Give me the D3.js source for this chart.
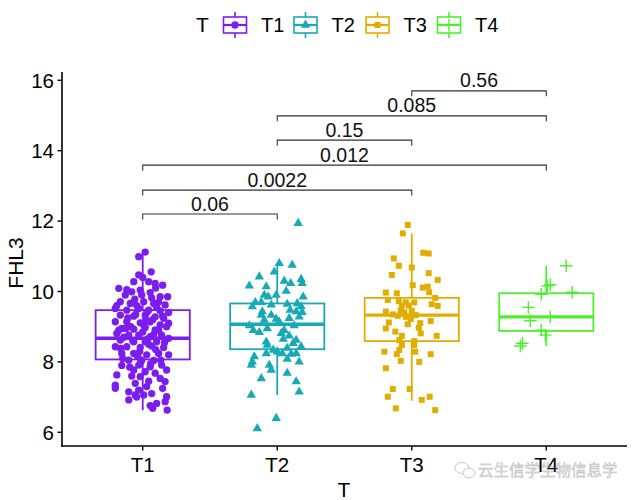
<!DOCTYPE html>
<html><head><meta charset="utf-8">
<script src="https://cdn.jsdelivr.net/npm/d3@7"></script>
<style>body{margin:0;background:#fff}svg{display:block}</style>
</head><body>
<svg id="chart" width="638" height="500"></svg>
<script>
// ---------- DATA ----------
const categories = ["T1", "T2", "T3", "T4"];
const colors = ["#7C1DF0", "#17A9B6", "#E0AD00", "#4CF02C"];
const shapes = ["circle", "triangle", "square", "cross"];
const boxLow  = [6.63, 7.06, 6.90, 8.45];
const boxQ1   = [8.07, 8.36, 8.59, 8.88];
const boxMed  = [8.67, 9.07, 9.33, 9.28];
const boxQ3   = [9.47, 9.66, 9.82, 9.95];
const boxHigh = [11.15, 10.80, 11.65, 10.73];
const yTicks = [6, 8, 10, 12, 14, 16];
// points: [jitter (1/135 of a category), value]
const t1Points = [[2.5,11.12],[-4,10.99],[8.5,10.56],[-4,10.47],[-9,10.28],[6,10.28],[12.5,10.23],[20,10.18],[-24,10.09],[-11,9.99],[-2.5,10.04],[7.5,9.97],[-17.5,9.9],[17.5,9.85],[25,9.85],[-22.5,9.71],[-12.5,9.66],[1,9.71],[11,9.66],[22.5,9.62],[-27.5,9.52],[-16,9.47],[-4,9.52],[6,9.47],[17.5,9.45],[26,9.4],[-22.5,9.33],[-9,9.3],[2.5,9.33],[12.5,9.28],[21,9.24],[-27.5,9.14],[-16,9.14],[-2.5,9.11],[7.5,9.14],[17.5,9.05],[26,9.1],[-21,8.95],[-9,8.93],[2.5,8.98],[12.5,8.91],[-26,8.81],[-14,8.76],[-4,8.76],[7.5,8.72],[19,8.76],[26,8.67],[-22.5,8.62],[-9,8.57],[2.5,8.57],[14,8.57],[-27.5,8.43],[-16,8.43],[-2.5,8.41],[9,8.45],[21,8.41],[-21,8.24],[-9,8.24],[4,8.2],[16,8.24],[26,8.2],[-14,8.05],[-1,8.05],[11,8.04],[-4,7.91],[7.5,7.86],[19,7.91],[24,7.77],[-9,7.77],[2.5,7.72],[12.5,7.68],[-26,7.63],[-2.5,7.58],[17.5,7.53],[22.5,7.44],[-27.5,7.34],[-7.5,7.39],[4,7.3],[-27.5,7.25],[-14,7.15],[-4,7.2],[-7.5,7.06],[1,7.06],[24,7.01],[-14,6.92],[14,6.82],[7.5,6.76],[22.5,6.87],[24.5,6.63],[10,6.68],
  [-6,9.6],[4,9.4],[10,9.2],[-12,9.0],[0,8.85],[16,8.9],[-19,8.7],[6,8.5],[-3,8.3],[13,8.35],[-24,8.9],[20,9.3],[-8,9.78],[9,9.82],[-15,9.25],[1,9.05],[-10,8.6],[18,8.05],[-20,8.1],[5,8.65],[-1,9.9],[22,8.55],[-26,9.6],[14,9.55],[-5,8.15],[8,7.95],[-13,7.85],[19,8.72],[-17,8.95],[3,9.2],[24,9.0],[-22,8.38],[11,8.78],[-7,9.35],[16,9.7],[-2,8.0],[-11,7.6],[6,7.45],[-16,10.05],[13,10.1],[-21,7.9],[20,7.25],[0,10.4],[-6,7.0],[9,7.1]];
const t2Points = [[21,11.94],[2,10.8],[15,10.75],[-3,10.56],[-18,10.42],[7,10.3],[13.5,10.23],[24,10.35],[25,10.23],[-28,10.16],[-11,10.14],[9,10.01],[-1,9.9],[-13,9.9],[-9,9.85],[26,9.85],[-22,9.69],[-16,9.69],[-6,9.62],[10,9.64],[20,9.66],[24,9.57],[-25,9.57],[-15,9.43],[13,9.47],[19,9.43],[25,9.41],[-16,9.33],[-6,9.33],[-13,9.19],[-1,9.22],[12,9.24],[22,9.28],[2,9.14],[-28,9.03],[17,9.03],[-24,8.9],[-10,8.95],[7,8.9],[-18,8.84],[4,8.81],[12,8.74],[6,8.65],[19,8.62],[-11,8.57],[-10,8.48],[16,8.53],[24,8.43],[10,8.39],[-4,8.34],[0,8.29],[5,8.24],[-11,8.24],[14,8.22],[19,8.24],[-23,8.15],[22,8.0],[-25,8.0],[10,8.08],[-8,7.91],[-26,7.91],[-6,7.77],[10,7.68],[-16,7.53],[19,7.44],[22,7.15],[-26,7.06],[-1,6.4],[-20,6.11]];
const t3Points = [[-4,11.89],[-9,11.65],[11.5,11.1],[17,11.08],[-18,10.94],[-13,10.73],[0,10.68],[-20,10.47],[17,10.52],[26,10.33],[1,10.18],[11,10.11],[16,10.14],[-26,9.97],[-15,9.95],[17.5,9.98],[23.5,9.82],[-24,9.76],[-13,9.73],[-6,9.69],[2.5,9.69],[-10,9.6],[-3,9.6],[20,9.64],[26,9.59],[-11,9.47],[-26,9.43],[-7.5,9.41],[0,9.45],[-19,9.35],[-14,9.31],[-6,9.28],[4,9.33],[-1,9.22],[-23,9.12],[8.5,9.1],[19,9.16],[-4,9.07],[-26,8.95],[7,8.97],[-16.5,8.86],[9,8.81],[-10,8.74],[25,8.74],[-12.5,8.62],[2.5,8.59],[-10,8.48],[2.5,8.48],[-27.5,8.29],[-12.5,8.34],[-15,8.22],[3.5,8.29],[19,8.22],[-11,8.03],[7.5,8.0],[-26,7.82],[-19,7.23],[-24,7.01],[-2,7.23],[10,6.92],[18,7.01],[-16,6.68],[23.5,6.63]];
const t4Points = [[20,10.73],[1,10.16],[4,10.19],[-5,9.92],[26,9.98],[-18,9.55],[-16,9.17],[4,9.28],[-5,8.9],[-1,8.76],[-24,8.53],[-26,8.45]];
const groupPoints = [t1Points, t2Points, t3Points, t4Points];
const comparisons = [["T1","T2","0.06"],["T1","T3","0.0022"],["T1","T4","0.012"],["T2","T3","0.15"],["T2","T4","0.085"],["T3","T4","0.56"]];
const bracketY = [12.2, 12.88, 13.59, 14.3, 14.99, 15.7];

// ---------- LAYOUT ----------
const svg = d3.select("#chart");
const FONT = "'Liberation Sans', Arial, sans-serif";
const left = 62, right = 627, axisTop = 72, axisBottom = 446;
const x = d3.scalePoint().domain(categories).range([left, right]).padding(0.6);
const step = x.step();
const y = d3.scaleLinear().domain([6, 16]).range([432.3, 80.3]);
const boxW = step * 0.7;

function symbolPath(shape, size) {
  if (shape === "circle") return d3.symbol(d3.symbolCircle, size)();
  if (shape === "triangle") return d3.symbol(d3.symbolTriangle, size * 0.9)();
  if (shape === "square") return d3.symbol(d3.symbolSquare, size * 0.85)();
  const h = Math.sqrt(size) * 0.8;
  return `M${-h},0H${h}M0,${-h}V${h}`;
}
function drawSymbol(g, shape, color, cx, cy, size) {
  const p = g.append("path").attr("d", symbolPath(shape, size))
    .attr("transform", `translate(${cx},${cy})`);
  if (shape === "cross") p.attr("fill", "none").attr("stroke", color).attr("stroke-width", 1.4);
  else p.attr("fill", color);
}

// ---------- BOXES ----------
const gBox = svg.append("g");
categories.forEach((c, i) => {
  const cx = x(c), col = colors[i];
  const g = gBox.append("g").attr("stroke", col).attr("fill", "none");
  g.append("line").attr("x1", cx).attr("x2", cx).attr("y1", y(boxHigh[i])).attr("y2", y(boxQ3[i])).attr("stroke-width", 1.8);
  g.append("line").attr("x1", cx).attr("x2", cx).attr("y1", y(boxQ1[i])).attr("y2", y(boxLow[i])).attr("stroke-width", 1.8);
  g.append("rect").attr("x", cx - boxW / 2).attr("width", boxW)
    .attr("y", y(boxQ3[i])).attr("height", y(boxQ1[i]) - y(boxQ3[i])).attr("fill", "#fff").attr("stroke-width", 1.8);
  g.append("line").attr("x1", cx - boxW / 2).attr("x2", cx + boxW / 2)
    .attr("y1", y(boxMed[i])).attr("y2", y(boxMed[i])).attr("stroke-width", 3.4);
});

// ---------- POINTS ----------
const gPts = svg.append("g");
categories.forEach((c, i) => {
  groupPoints[i].forEach(([j, v]) => {
    drawSymbol(gPts, shapes[i], colors[i], x(c) + j * step / 135, y(v), shapes[i] === "cross" ? 60 : 42);
  });
});

// ---------- BRACKETS ----------
const gBr = svg.append("g");
comparisons.forEach(([a, b, lab], k) => {
  const yy = y(bracketY[k]), x1 = x(a), x2 = x(b), tip = 5.5;
  gBr.append("path").attr("d", `M${x1},${yy + tip}V${yy}H${x2}V${yy + tip}`)
    .attr("fill", "none").attr("stroke", "#333").attr("stroke-width", 1.1);
  gBr.append("text").attr("x", (x1 + x2) / 2).attr("y", yy - 3.5).attr("text-anchor", "middle")
    .attr("font-family", FONT).attr("font-size", 19.5).attr("fill", "#111").text(lab);
});

// ---------- AXES ----------
const gAx = svg.append("g");
gAx.append("line").attr("x1", left).attr("x2", left).attr("y1", axisTop).attr("y2", axisBottom + 0.75).attr("stroke", "#000").attr("stroke-width", 1.6);
gAx.append("line").attr("x1", left - 0.75).attr("x2", right).attr("y1", axisBottom).attr("y2", axisBottom).attr("stroke", "#000").attr("stroke-width", 1.6);
yTicks.forEach(t => {
  gAx.append("line").attr("x1", left - 4.5).attr("x2", left).attr("y1", y(t)).attr("y2", y(t)).attr("stroke", "#000").attr("stroke-width", 1.4);
  gAx.append("text").attr("x", left - 8).attr("y", y(t)).attr("dy", "0.36em").attr("text-anchor", "end")
    .attr("font-family", FONT).attr("font-size", 20.5).attr("fill", "#000").text(t);
});
categories.forEach(c => {
  gAx.append("line").attr("x1", x(c)).attr("x2", x(c)).attr("y1", axisBottom).attr("y2", axisBottom + 4.5).attr("stroke", "#000").attr("stroke-width", 1.4);
  gAx.append("text").attr("x", x(c)).attr("y", axisBottom + 26).attr("text-anchor", "middle")
    .attr("font-family", FONT).attr("font-size", 20.5).attr("fill", "#000").text(c);
});
svg.append("text").attr("x", (left + right) / 2 - 0.5).attr("y", 497).attr("text-anchor", "middle")
  .attr("font-family", FONT).attr("font-size", 21).attr("fill", "#000").text("T");
svg.append("text").attr("transform", `translate(23,${263}) rotate(-90)`).attr("text-anchor", "middle")
  .attr("font-family", FONT).attr("font-size", 21).attr("fill", "#000").text("FHL3");

// ---------- LEGEND ----------
const gLeg = svg.append("g");
gLeg.append("text").attr("x", 196).attr("y", 32).attr("font-family", FONT).attr("font-size", 21).attr("fill", "#000").text("T");
const keyX = [235, 305.5, 377.5, 449];
categories.forEach((c, i) => {
  const kx = keyX[i], col = colors[i];
  const g = gLeg.append("g").attr("stroke", col).attr("fill", "none").attr("stroke-width", 1.6);
  g.append("line").attr("x1", kx).attr("x2", kx).attr("y1", 12).attr("y2", 38);
  g.append("rect").attr("x", kx - 11.5).attr("y", 17).attr("width", 23).attr("height", 16).attr("fill", "#fff");
  g.append("line").attr("x1", kx - 11.5).attr("x2", kx + 11.5).attr("y1", 25).attr("y2", 25).attr("stroke-width", 2.2);
  drawSymbol(gLeg, shapes[i], col, kx, 25, shapes[i] === "cross" ? 60 : 42);
  gLeg.append("text").attr("x", kx + 26).attr("y", 32).attr("font-family", FONT).attr("font-size", 20).attr("fill", "#000").text(c);
});

// ---------- WATERMARK ----------
const gW = svg.append("g").attr("opacity", 0.55);
gW.append("ellipse").attr("cx", 462).attr("cy", 468).attr("rx", 7).attr("ry", 5.5).attr("fill", "none").attr("stroke", "#999").attr("stroke-width", 1);
gW.append("ellipse").attr("cx", 469).attr("cy", 473).attr("rx", 6).attr("ry", 4.8).attr("fill", "#fff").attr("stroke", "#999").attr("stroke-width", 1);
gW.append("text").attr("x", 478).attr("y", 476).attr("font-family", "'Noto Sans CJK SC', sans-serif").attr("font-size", 15.5)
  .attr("fill", "#bbb").attr("stroke", "#888").attr("stroke-width", 0.4).text("云生信学生物信息学");
</script>
</body></html>
